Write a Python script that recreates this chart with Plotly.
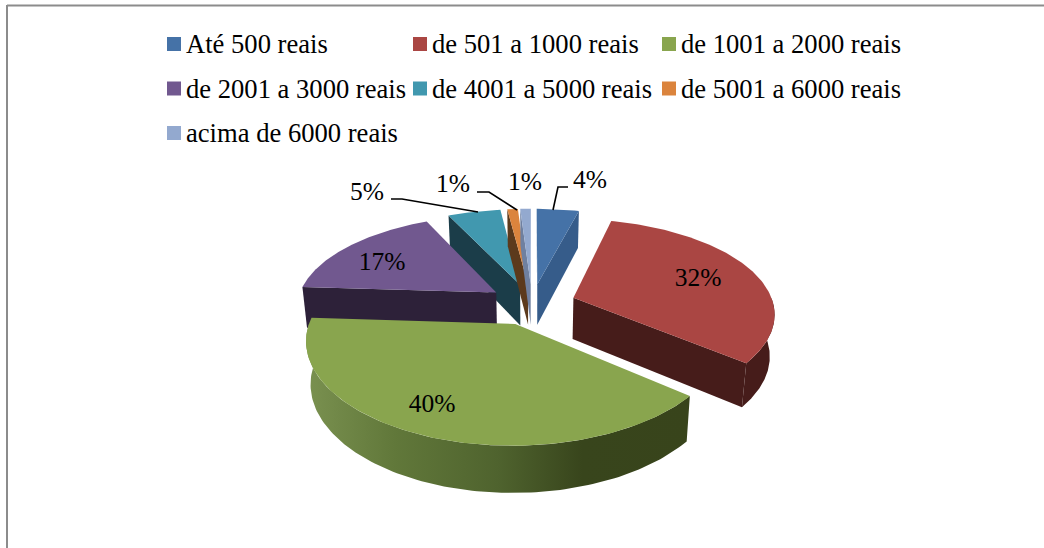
import numpy as np
import plotly.graph_objects as go

# Income bands and their shares (%)
categories = ["Até 500 reais", "de 501 a 1000 reais", "de 1001 a 2000 reais",
              "de 2001 a 3000 reais", "de 4001 a 5000 reais", "de 5001 a 6000 reais",
              "acima de 6000 reais"]
shares = [4, 32, 40, 17, 5, 1, 1]

top_colors = ["#4572a7", "#aa4643", "#89a54e", "#71588f", "#4198af", "#db843d", "#93a9cf"]
side_colors = ["#365c8a", "#461c1a", "#37441b", "#2d2139", "#1b3d49", "#5c3a1c", "#6f80a0"]

# Projection of the tilted pie onto the page, in pixels
CX, CY = 532.0, 304.0
SCALE_X, SCALE_Y = 200.0, 94.0
PERSPECTIVE_X, PERSPECTIVE_Y = 0.15, 0.167
EXPLODE = 0.22
DEPTH, DEPTH_PERSP, BASE_SHRINK = 41.5, 0.10, 0.98
LABEL_FONT = dict(family="Liberation Serif", size=25.5, color="#000000")
KEY_FONT = dict(family="Liberation Serif", size=26.6, color="#000000")


def project(X, Y, base=False):
    X, Y = np.asarray(X, float), np.asarray(Y, float)
    px = SCALE_X * X / (1 + PERSPECTIVE_X * Y)
    py = CY - SCALE_Y * Y / (1 + PERSPECTIVE_Y * Y)
    if base:
        return CX + px * BASE_SHRINK, py + DEPTH / (1 + DEPTH_PERSP * Y)
    return CX + px, py


def poly(xs, ys, color, name, **extra):
    return go.Scatter(x=np.append(xs, xs[0]), y=np.append(ys, ys[0]), mode="lines",
                      fill="toself", fillcolor=color, line=dict(width=0, color=color),
                      name=name, showlegend=False, hoverinfo="skip", **extra)


edges = np.concatenate([[0], np.cumsum(shares)]) / np.sum(shares) * 2 * np.pi
fig = go.Figure()

# Back slices first so nearer ones overlap them
draw_order = [4, 5, 6, 0, 3, 1, 2]
for i in draw_order:
    a0, a1 = edges[i], edges[i + 1]
    mid = (a0 + a1) / 2
    ox, oy = EXPLODE * np.sin(mid), EXPLODE * np.cos(mid)
    name = categories[i]

    # Outer wall: only the part facing the viewer
    f0, f1 = max(a0, np.pi / 2), min(a1, 3 * np.pi / 2)
    if f1 > f0:
        t = np.linspace(f0, f1, 120)
        xt, yt = project(ox + np.sin(t), oy + np.cos(t))
        xb, yb = project(ox + np.sin(t), oy + np.cos(t), base=True)
        extra = {}
        if i == 2:
            extra["fillgradient"] = dict(type="horizontal", colorscale=[
                [0, "#7a9150"], [0.23, "#61783a"], [0.5, "#4f632e"],
                [0.72, "#38451c"], [1, "#38441b"]])
        xs = np.concatenate([xt, xb[::-1]])
        ys = np.concatenate([yt, yb[::-1]])
        fig.add_trace(poly(xs, ys, side_colors[i], name, **extra))

    # Radial cut faces, drawn when they turn towards the viewer
    ax_t, ay_t = project([ox], [oy])
    ax_b, ay_b = project([ox], [oy], base=True)
    for angle, sign in ((a0, -1), (a1, 1)):
        rx_t, ry_t = project([ox + np.sin(angle)], [oy + np.cos(angle)])
        rx_b, ry_b = project([ox + np.sin(angle)], [oy + np.cos(angle)], base=True)
        if (rx_t[0] - ax_t[0]) * sign > 0:
            fig.add_trace(poly(np.array([ax_t[0], rx_t[0], rx_b[0], ax_b[0]]),
                               np.array([ay_t[0], ry_t[0], ry_b[0], ay_b[0]]),
                               side_colors[i], name))

    # Top face
    t = np.linspace(a0, a1, 120)
    xt, yt = project(ox + np.sin(t), oy + np.cos(t))
    fig.add_trace(poly(np.concatenate([ax_t, xt]), np.concatenate([ay_t, yt]),
                       top_colors[i], name))

# Leader lines for the labels that sit outside the pie
leaders = [([553, 558, 568], [210, 187, 187]),
           ([517, 489, 477], [210, 192, 192]),
           ([478, 402, 391], [212, 199, 199])]
for lx, ly in leaders:
    fig.add_trace(go.Scatter(x=lx, y=ly, mode="lines", line=dict(color="#000000", width=1.6),
                             showlegend=False, hoverinfo="skip"))

# Percentage labels
label_x = [590, 698, 432, 382, 367, 453, 525]
label_y = [182, 280, 405.5, 264, 194, 186, 184]
fig.add_trace(go.Scatter(x=label_x, y=label_y, mode="text", text=[f"{v}%" for v in shares],
                         textposition="middle center", textfont=LABEL_FONT,
                         showlegend=False, hoverinfo="skip"))

# Key: three rows, three columns
key_col = [174, 420, 669]
key_row = [44, 88.5, 133]
for i, name in enumerate(categories):
    kx, ky = key_col[i % 3], key_row[i // 3]
    fig.add_trace(go.Scatter(x=[kx], y=[ky], mode="markers", name=name, showlegend=False,
                             marker=dict(symbol="square", size=14, color=top_colors[i]),
                             hoverinfo="skip"))
    fig.add_annotation(x=kx + 12, y=ky, text=name, showarrow=False, xanchor="left",
                       yanchor="middle", font=KEY_FONT, borderpad=0, borderwidth=0)

# Frame of the chart area
fig.add_shape(type="line", x0=7, x1=1044, y0=5.5, y1=5.5, line=dict(color="#8c8c8c", width=2))
fig.add_shape(type="line", x0=7, x1=7, y0=5, y1=548, line=dict(color="#8c8c8c", width=2))

fig.update_layout(width=1044, height=548, margin=dict(l=0, r=0, t=0, b=0),
                  paper_bgcolor="#ffffff", plot_bgcolor="#ffffff", showlegend=False,
                  xaxis=dict(range=[0, 1044], visible=False, fixedrange=True),
                  yaxis=dict(range=[548, 0], visible=False, fixedrange=True))
fig.write_html("out.html", config=dict(displayModeBar=False))
